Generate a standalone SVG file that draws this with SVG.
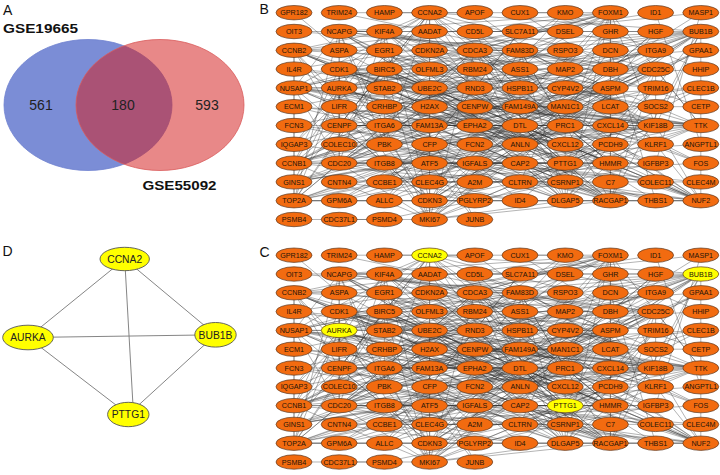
<svg xmlns="http://www.w3.org/2000/svg" xmlns:xlink="http://www.w3.org/1999/xlink" width="720" height="475" viewBox="0 0 720 475">
<style>
.lbl{font-family:"Liberation Sans",Arial,sans-serif;font-size:14px;fill:#111}
.gse{font-family:"Liberation Sans",Arial,sans-serif;font-weight:bold;font-size:13px;fill:#111}
.num{font-family:"Liberation Sans",Arial,sans-serif;font-size:14px;fill:#222;text-anchor:middle}
.n use{fill:#F26B10;stroke:#5b3a22;stroke-width:0.7}
.n.y use{fill:#FFFF00}
.n text{font-family:"Liberation Sans",Arial,sans-serif;font-size:7.2px;fill:#241408;text-anchor:middle}
.dn ellipse{fill:#FFFF00;stroke:#555;stroke-width:0.9}
.dn text{font-family:"Liberation Sans",Arial,sans-serif;font-size:10.3px;fill:#222;text-anchor:middle}
.e{fill:none;stroke:#333;stroke-width:0.6;stroke-opacity:0.62}
.de{stroke:#777;stroke-width:0.9;fill:none}
</style>
<defs>
<ellipse id="e" rx="18" ry="7.2"/>
</defs>
<rect width="720" height="475" fill="#fff"/>

<!-- Panel A: Venn -->
<g id="panelA">
<text class="lbl" x="3" y="15">A</text>
<ellipse id="venn-GSE19665" cx="88" cy="105" rx="84" ry="65.5" fill="#7B8DD6" stroke="#6F82CF" stroke-width="0.8"/>
<ellipse id="venn-GSE55092" cx="160" cy="105" rx="84" ry="65.5" fill="#D41E1E" fill-opacity="0.53" stroke="#D95A5A" stroke-width="0.8"/>
<text class="num" x="41" y="110">561</text>
<text class="num" x="123" y="110">180</text>
<text class="num" x="207" y="110">593</text>
<text class="gse" x="3" y="33.3" textLength="75" lengthAdjust="spacingAndGlyphs">GSE19665</text>
<text class="gse" x="142.5" y="190" textLength="74" lengthAdjust="spacingAndGlyphs">GSE55092</text>
</g>

<!-- Panel B connectors -->
<g id="connectors-B">
<g id="netB" transform="translate(294 12.7) scale(45.2 18.8)">
<path class="e" vector-effect="non-scaling-stroke" d="M0 2L0 4L0 8L0 10L1 1L1 3L1 4L1 6L1 8L2 1L2 3L2 7L3 0L3 4L3 10L3 11L4 2L5 2L5 6L5 7L6 6L6 8L6 10L7 0L7 4L7 8L7 10L8 3L8 6L9 1L9 6L9 10Z
M0 2L0 10L1 4L2 1L3 0L3 11L5 6L6 8L7 4L8 3L9 6L0 4L1 1L1 6L2 3L3 4L4 2L5 7L6 10L7 8L8 6L9 10L0 8L1 3L1 8L2 7L3 10L5 2L6 6L7 0L7 10L9 1Z
M0 2L1 3L2 3L3 11L6 6L7 8L9 6L0 10L1 8L3 4L5 6L7 0L8 6L0 4L1 4L2 7L4 2L6 8L7 10L9 10L1 1L2 1L3 10L5 7L7 4L9 1L0 8L1 6L3 0L5 2L6 10L8 3Z
M0 2L1 6L3 10L6 8L8 6L0 10L2 3L5 2L7 4L9 10L1 4L3 4L6 6L8 3L0 8L2 1L4 2L7 0L9 6L1 3L3 0L5 7L7 10L0 4L1 8L3 11L6 10L9 1L1 1L2 7L5 6L7 8Z
M0 2L2 1L5 6L8 3L1 1L3 4L6 10L9 10L1 8L5 2L7 10L0 10L3 0L6 8L9 6L1 6L4 2L7 8L0 8L2 7L6 6L9 1L1 4L3 11L7 4L0 4L2 3L5 7L8 6L1 3L3 10L7 0Z
M0 2L2 7L6 10L0 4L3 0L7 0L0 8L3 4L7 4L0 10L3 10L7 8L1 1L3 11L7 10L1 3L4 2L8 3L1 4L5 2L8 6L1 6L5 6L9 1L1 8L5 7L9 6L2 1L6 6L9 10L2 3L6 8Z
M0 2L3 4L7 10L1 6L6 6L0 4L3 10L8 3L1 8L6 8L0 8L3 11L8 6L2 1L6 10L0 10L4 2L9 1L2 3L7 0L1 1L5 2L9 6L2 7L7 4L1 3L5 6L9 10L3 0L7 8L1 4L5 7Z
M0 2L3 11L9 6L3 4L8 6L2 7L7 10L2 1L7 4L1 6L6 10L1 3L6 6L0 10L5 6L0 4L4 2L9 10L3 10L9 1L3 0L8 3L2 3L7 8L1 8L7 0L1 4L6 8L1 1L5 7L0 8L5 2Z
M2 0L4 0L7 5L9 5L4 1L8 1L6 7L7 6L9 8L2 2L4 11L3 8L8 8L9 0L3 9L7 9L9 9L4 8L8 9L1 7L6 3L2 5L4 9L2 8L9 7L8 0L0 3L5 4L7 2L8 10L2 6L9 4L1 5L6 7
M0 0L1 2L4 3L7 3L5 0L6 0L9 3L2 4L5 3L6 1L8 2L0 6L4 7L9 2L3 3L8 5L6 4L5 9L1 9L4 10L7 7L1 10L3 7L8 4L6 9L2 9L5 10L3 6L6 5L5 5L8 7L4 6L0 5L6 2L0 1L5 1L9 0
M0 11L3 11M1 11L2 11L8 8L3 8L2 10L5 8L7 2L4 4L3 1L1 0L2 0L3 0
M0 7L3 0L0 9L9 1L3 5L1 3L4 5L6 8L3 2L7 0L0 7L1 4L0 9L5 6L3 5L9 6L4 5L2 3L3 2L9 10L0 7L7 4L0 9L8 6L4 5L1 8L3 5L7 10L3 2L0 4
M1 2L6 8L2 4L9 6L3 6L7 10L4 7L8 2L0 8L6 4L3 9L9 1L5 3L1 6L7 7L4 1L6 10L2 2L8 8L0 4L5 9L9 4L1 10L7 3L3 1L6 6L0 6L8 10L4 4L2 9L7 1L5 6L3 10
M2 6L7 4L1 9L9 8L4 2L6 9L0 3L8 6L3 7L5 1L2 10L9 2L4 8L1 4L6 2L3 11L8 1L5 7L0 9L7 6L2 4L9 10L4 5L6 0L1 8L5 10L8 4L3 3L7 9L0 5L6 6"/>
</g>
</g>

<!-- Panel B nodes -->
<g id="panelB">
<text class="lbl" x="259.5" y="14">B</text>
<g id="b-GPR182" class="n" transform="translate(294 12.7)"><use href="#e"/><text y="2.6">GPR182</text></g>
<g id="b-OIT3" class="n" transform="translate(294 31.5)"><use href="#e"/><text y="2.6">OIT3</text></g>
<g id="b-CCNB2" class="n" transform="translate(294 50.3)"><use href="#e"/><text y="2.6">CCNB2</text></g>
<g id="b-IL4R" class="n" transform="translate(294 69.1)"><use href="#e"/><text y="2.6">IL4R</text></g>
<g id="b-NUSAP1" class="n" transform="translate(294 87.9)"><use href="#e"/><text y="2.6">NUSAP1</text></g>
<g id="b-ECM1" class="n" transform="translate(294 106.7)"><use href="#e"/><text y="2.6">ECM1</text></g>
<g id="b-FCN3" class="n" transform="translate(294 125.5)"><use href="#e"/><text y="2.6">FCN3</text></g>
<g id="b-IQGAP3" class="n" transform="translate(294 144.3)"><use href="#e"/><text y="2.6">IQGAP3</text></g>
<g id="b-CCNB1" class="n" transform="translate(294 163.1)"><use href="#e"/><text y="2.6">CCNB1</text></g>
<g id="b-GINS1" class="n" transform="translate(294 181.9)"><use href="#e"/><text y="2.6">GINS1</text></g>
<g id="b-TOP2A" class="n" transform="translate(294 200.7)"><use href="#e"/><text y="2.6">TOP2A</text></g>
<g id="b-PSMB4" class="n" transform="translate(294 219.5)"><use href="#e"/><text y="2.6">PSMB4</text></g>

<g id="b-TRIM24" class="n" transform="translate(339.2 12.7)"><use href="#e"/><text y="2.6">TRIM24</text></g>
<g id="b-NCAPG" class="n" transform="translate(339.2 31.5)"><use href="#e"/><text y="2.6">NCAPG</text></g>
<g id="b-ASPA" class="n" transform="translate(339.2 50.3)"><use href="#e"/><text y="2.6">ASPA</text></g>
<g id="b-CDK1" class="n" transform="translate(339.2 69.1)"><use href="#e"/><text y="2.6">CDK1</text></g>
<g id="b-AURKA" class="n" transform="translate(339.2 87.9)"><use href="#e"/><text y="2.6">AURKA</text></g>
<g id="b-LIFR" class="n" transform="translate(339.2 106.7)"><use href="#e"/><text y="2.6">LIFR</text></g>
<g id="b-CENPF" class="n" transform="translate(339.2 125.5)"><use href="#e"/><text y="2.6">CENPF</text></g>
<g id="b-COLEC10" class="n" transform="translate(339.2 144.3)"><use href="#e"/><text y="2.6">COLEC10</text></g>
<g id="b-CDC20" class="n" transform="translate(339.2 163.1)"><use href="#e"/><text y="2.6">CDC20</text></g>
<g id="b-CNTN4" class="n" transform="translate(339.2 181.9)"><use href="#e"/><text y="2.6">CNTN4</text></g>
<g id="b-GPM6A" class="n" transform="translate(339.2 200.7)"><use href="#e"/><text y="2.6">GPM6A</text></g>
<g id="b-CDC37L1" class="n" transform="translate(339.2 219.5)"><use href="#e"/><text y="2.6">CDC37L1</text></g>

<g id="b-HAMP" class="n" transform="translate(384.4 12.7)"><use href="#e"/><text y="2.6">HAMP</text></g>
<g id="b-KIF4A" class="n" transform="translate(384.4 31.5)"><use href="#e"/><text y="2.6">KIF4A</text></g>
<g id="b-EGR1" class="n" transform="translate(384.4 50.3)"><use href="#e"/><text y="2.6">EGR1</text></g>
<g id="b-BIRC5" class="n" transform="translate(384.4 69.1)"><use href="#e"/><text y="2.6">BIRC5</text></g>
<g id="b-STAB2" class="n" transform="translate(384.4 87.9)"><use href="#e"/><text y="2.6">STAB2</text></g>
<g id="b-CRHBP" class="n" transform="translate(384.4 106.7)"><use href="#e"/><text y="2.6">CRHBP</text></g>
<g id="b-ITGA6" class="n" transform="translate(384.4 125.5)"><use href="#e"/><text y="2.6">ITGA6</text></g>
<g id="b-PBK" class="n" transform="translate(384.4 144.3)"><use href="#e"/><text y="2.6">PBK</text></g>
<g id="b-ITGB8" class="n" transform="translate(384.4 163.1)"><use href="#e"/><text y="2.6">ITGB8</text></g>
<g id="b-CCBE1" class="n" transform="translate(384.4 181.9)"><use href="#e"/><text y="2.6">CCBE1</text></g>
<g id="b-ALLC" class="n" transform="translate(384.4 200.7)"><use href="#e"/><text y="2.6">ALLC</text></g>
<g id="b-PSMD4" class="n" transform="translate(384.4 219.5)"><use href="#e"/><text y="2.6">PSMD4</text></g>

<g id="b-CCNA2" class="n" transform="translate(429.6 12.7)"><use href="#e"/><text y="2.6">CCNA2</text></g>
<g id="b-AADAT" class="n" transform="translate(429.6 31.5)"><use href="#e"/><text y="2.6">AADAT</text></g>
<g id="b-CDKN2A" class="n" transform="translate(429.6 50.3)"><use href="#e"/><text y="2.6">CDKN2A</text></g>
<g id="b-OLFML3" class="n" transform="translate(429.6 69.1)"><use href="#e"/><text y="2.6">OLFML3</text></g>
<g id="b-UBE2C" class="n" transform="translate(429.6 87.9)"><use href="#e"/><text y="2.6">UBE2C</text></g>
<g id="b-H2AX" class="n" transform="translate(429.6 106.7)"><use href="#e"/><text y="2.6">H2AX</text></g>
<g id="b-FAM13A" class="n" transform="translate(429.6 125.5)"><use href="#e"/><text y="2.6">FAM13A</text></g>
<g id="b-CFP" class="n" transform="translate(429.6 144.3)"><use href="#e"/><text y="2.6">CFP</text></g>
<g id="b-ATF5" class="n" transform="translate(429.6 163.1)"><use href="#e"/><text y="2.6">ATF5</text></g>
<g id="b-CLEC4G" class="n" transform="translate(429.6 181.9)"><use href="#e"/><text y="2.6">CLEC4G</text></g>
<g id="b-CDKN3" class="n" transform="translate(429.6 200.7)"><use href="#e"/><text y="2.6">CDKN3</text></g>
<g id="b-MKI67" class="n" transform="translate(429.6 219.5)"><use href="#e"/><text y="2.6">MKI67</text></g>

<g id="b-APOF" class="n" transform="translate(474.8 12.7)"><use href="#e"/><text y="2.6">APOF</text></g>
<g id="b-CD5L" class="n" transform="translate(474.8 31.5)"><use href="#e"/><text y="2.6">CD5L</text></g>
<g id="b-CDCA3" class="n" transform="translate(474.8 50.3)"><use href="#e"/><text y="2.6">CDCA3</text></g>
<g id="b-RBM24" class="n" transform="translate(474.8 69.1)"><use href="#e"/><text y="2.6">RBM24</text></g>
<g id="b-RND3" class="n" transform="translate(474.8 87.9)"><use href="#e"/><text y="2.6">RND3</text></g>
<g id="b-CENPW" class="n" transform="translate(474.8 106.7)"><use href="#e"/><text y="2.6">CENPW</text></g>
<g id="b-EPHA2" class="n" transform="translate(474.8 125.5)"><use href="#e"/><text y="2.6">EPHA2</text></g>
<g id="b-FCN2" class="n" transform="translate(474.8 144.3)"><use href="#e"/><text y="2.6">FCN2</text></g>
<g id="b-IGFALS" class="n" transform="translate(474.8 163.1)"><use href="#e"/><text y="2.6">IGFALS</text></g>
<g id="b-A2M" class="n" transform="translate(474.8 181.9)"><use href="#e"/><text y="2.6">A2M</text></g>
<g id="b-PGLYRP2" class="n" transform="translate(474.8 200.7)"><use href="#e"/><text y="2.6">PGLYRP2</text></g>
<g id="b-JUNB" class="n" transform="translate(474.8 219.5)"><use href="#e"/><text y="2.6">JUNB</text></g>

<g id="b-CUX1" class="n" transform="translate(520 12.7)"><use href="#e"/><text y="2.6">CUX1</text></g>
<g id="b-SLC7A11" class="n" transform="translate(520 31.5)"><use href="#e"/><text y="2.6">SLC7A11</text></g>
<g id="b-FAM83D" class="n" transform="translate(520 50.3)"><use href="#e"/><text y="2.6">FAM83D</text></g>
<g id="b-ASS1" class="n" transform="translate(520 69.1)"><use href="#e"/><text y="2.6">ASS1</text></g>
<g id="b-HSPB11" class="n" transform="translate(520 87.9)"><use href="#e"/><text y="2.6">HSPB11</text></g>
<g id="b-FAM149A" class="n" transform="translate(520 106.7)"><use href="#e"/><text y="2.6">FAM149A</text></g>
<g id="b-DTL" class="n" transform="translate(520 125.5)"><use href="#e"/><text y="2.6">DTL</text></g>
<g id="b-ANLN" class="n" transform="translate(520 144.3)"><use href="#e"/><text y="2.6">ANLN</text></g>
<g id="b-CAP2" class="n" transform="translate(520 163.1)"><use href="#e"/><text y="2.6">CAP2</text></g>
<g id="b-CLTRN" class="n" transform="translate(520 181.9)"><use href="#e"/><text y="2.6">CLTRN</text></g>
<g id="b-ID4" class="n" transform="translate(520 200.7)"><use href="#e"/><text y="2.6">ID4</text></g>

<g id="b-KMO" class="n" transform="translate(565.2 12.7)"><use href="#e"/><text y="2.6">KMO</text></g>
<g id="b-DSEL" class="n" transform="translate(565.2 31.5)"><use href="#e"/><text y="2.6">DSEL</text></g>
<g id="b-RSPO3" class="n" transform="translate(565.2 50.3)"><use href="#e"/><text y="2.6">RSPO3</text></g>
<g id="b-MAP2" class="n" transform="translate(565.2 69.1)"><use href="#e"/><text y="2.6">MAP2</text></g>
<g id="b-CYP4V2" class="n" transform="translate(565.2 87.9)"><use href="#e"/><text y="2.6">CYP4V2</text></g>
<g id="b-MAN1C1" class="n" transform="translate(565.2 106.7)"><use href="#e"/><text y="2.6">MAN1C1</text></g>
<g id="b-PRC1" class="n" transform="translate(565.2 125.5)"><use href="#e"/><text y="2.6">PRC1</text></g>
<g id="b-CXCL12" class="n" transform="translate(565.2 144.3)"><use href="#e"/><text y="2.6">CXCL12</text></g>
<g id="b-PTTG1" class="n" transform="translate(565.2 163.1)"><use href="#e"/><text y="2.6">PTTG1</text></g>
<g id="b-CSRNP1" class="n" transform="translate(565.2 181.9)"><use href="#e"/><text y="2.6">CSRNP1</text></g>
<g id="b-DLGAP5" class="n" transform="translate(565.2 200.7)"><use href="#e"/><text y="2.6">DLGAP5</text></g>

<g id="b-FOXM1" class="n" transform="translate(610.4 12.7)"><use href="#e"/><text y="2.6">FOXM1</text></g>
<g id="b-GHR" class="n" transform="translate(610.4 31.5)"><use href="#e"/><text y="2.6">GHR</text></g>
<g id="b-DCN" class="n" transform="translate(610.4 50.3)"><use href="#e"/><text y="2.6">DCN</text></g>
<g id="b-DBH" class="n" transform="translate(610.4 69.1)"><use href="#e"/><text y="2.6">DBH</text></g>
<g id="b-ASPM" class="n" transform="translate(610.4 87.9)"><use href="#e"/><text y="2.6">ASPM</text></g>
<g id="b-LCAT" class="n" transform="translate(610.4 106.7)"><use href="#e"/><text y="2.6">LCAT</text></g>
<g id="b-CXCL14" class="n" transform="translate(610.4 125.5)"><use href="#e"/><text y="2.6">CXCL14</text></g>
<g id="b-PCDH9" class="n" transform="translate(610.4 144.3)"><use href="#e"/><text y="2.6">PCDH9</text></g>
<g id="b-HMMR" class="n" transform="translate(610.4 163.1)"><use href="#e"/><text y="2.6">HMMR</text></g>
<g id="b-C7" class="n" transform="translate(610.4 181.9)"><use href="#e"/><text y="2.6">C7</text></g>
<g id="b-RACGAP1" class="n" transform="translate(610.4 200.7)"><use href="#e"/><text y="2.6">RACGAP1</text></g>

<g id="b-ID1" class="n" transform="translate(655.6 12.7)"><use href="#e"/><text y="2.6">ID1</text></g>
<g id="b-HGF" class="n" transform="translate(655.6 31.5)"><use href="#e"/><text y="2.6">HGF</text></g>
<g id="b-ITGA9" class="n" transform="translate(655.6 50.3)"><use href="#e"/><text y="2.6">ITGA9</text></g>
<g id="b-CDC25C" class="n" transform="translate(655.6 69.1)"><use href="#e"/><text y="2.6">CDC25C</text></g>
<g id="b-TRIM16" class="n" transform="translate(655.6 87.9)"><use href="#e"/><text y="2.6">TRIM16</text></g>
<g id="b-SOCS2" class="n" transform="translate(655.6 106.7)"><use href="#e"/><text y="2.6">SOCS2</text></g>
<g id="b-KIF18B" class="n" transform="translate(655.6 125.5)"><use href="#e"/><text y="2.6">KIF18B</text></g>
<g id="b-KLRF1" class="n" transform="translate(655.6 144.3)"><use href="#e"/><text y="2.6">KLRF1</text></g>
<g id="b-IGFBP3" class="n" transform="translate(655.6 163.1)"><use href="#e"/><text y="2.6">IGFBP3</text></g>
<g id="b-COLEC11" class="n" transform="translate(655.6 181.9)"><use href="#e"/><text y="2.6">COLEC11</text></g>
<g id="b-THBS1" class="n" transform="translate(655.6 200.7)"><use href="#e"/><text y="2.6">THBS1</text></g>

<g id="b-MASP1" class="n" transform="translate(700.8 12.7)"><use href="#e"/><text y="2.6">MASP1</text></g>
<g id="b-BUB1B" class="n" transform="translate(700.8 31.5)"><use href="#e"/><text y="2.6">BUB1B</text></g>
<g id="b-GPAA1" class="n" transform="translate(700.8 50.3)"><use href="#e"/><text y="2.6">GPAA1</text></g>
<g id="b-HHIP" class="n" transform="translate(700.8 69.1)"><use href="#e"/><text y="2.6">HHIP</text></g>
<g id="b-CLEC1B" class="n" transform="translate(700.8 87.9)"><use href="#e"/><text y="2.6">CLEC1B</text></g>
<g id="b-CETP" class="n" transform="translate(700.8 106.7)"><use href="#e"/><text y="2.6">CETP</text></g>
<g id="b-TTK" class="n" transform="translate(700.8 125.5)"><use href="#e"/><text y="2.6">TTK</text></g>
<g id="b-ANGPTL1" class="n" transform="translate(700.8 144.3)"><use href="#e"/><text y="2.6">ANGPTL1</text></g>
<g id="b-FOS" class="n" transform="translate(700.8 163.1)"><use href="#e"/><text y="2.6">FOS</text></g>
<g id="b-CLEC4M" class="n" transform="translate(700.8 181.9)"><use href="#e"/><text y="2.6">CLEC4M</text></g>
<g id="b-NUF2" class="n" transform="translate(700.8 200.7)"><use href="#e"/><text y="2.6">NUF2</text></g>
</g>

<!-- Panel C connectors (same network) -->
<g id="connectors-C">
<use href="#netB" y="242.5"/>
</g>

<!-- Panel C nodes -->
<text class="lbl" x="259.5" y="256.5">C</text>
<g id="panelC" transform="translate(0 242.5)">
<g id="c-GPR182" class="n" transform="translate(294 12.7)"><use href="#e"/><text y="2.6">GPR182</text></g>
<g id="c-OIT3" class="n" transform="translate(294 31.5)"><use href="#e"/><text y="2.6">OIT3</text></g>
<g id="c-CCNB2" class="n" transform="translate(294 50.3)"><use href="#e"/><text y="2.6">CCNB2</text></g>
<g id="c-IL4R" class="n" transform="translate(294 69.1)"><use href="#e"/><text y="2.6">IL4R</text></g>
<g id="c-NUSAP1" class="n" transform="translate(294 87.9)"><use href="#e"/><text y="2.6">NUSAP1</text></g>
<g id="c-ECM1" class="n" transform="translate(294 106.7)"><use href="#e"/><text y="2.6">ECM1</text></g>
<g id="c-FCN3" class="n" transform="translate(294 125.5)"><use href="#e"/><text y="2.6">FCN3</text></g>
<g id="c-IQGAP3" class="n" transform="translate(294 144.3)"><use href="#e"/><text y="2.6">IQGAP3</text></g>
<g id="c-CCNB1" class="n" transform="translate(294 163.1)"><use href="#e"/><text y="2.6">CCNB1</text></g>
<g id="c-GINS1" class="n" transform="translate(294 181.9)"><use href="#e"/><text y="2.6">GINS1</text></g>
<g id="c-TOP2A" class="n" transform="translate(294 200.7)"><use href="#e"/><text y="2.6">TOP2A</text></g>
<g id="c-PSMB4" class="n" transform="translate(294 219.5)"><use href="#e"/><text y="2.6">PSMB4</text></g>

<g id="c-TRIM24" class="n" transform="translate(339.2 12.7)"><use href="#e"/><text y="2.6">TRIM24</text></g>
<g id="c-NCAPG" class="n" transform="translate(339.2 31.5)"><use href="#e"/><text y="2.6">NCAPG</text></g>
<g id="c-ASPA" class="n" transform="translate(339.2 50.3)"><use href="#e"/><text y="2.6">ASPA</text></g>
<g id="c-CDK1" class="n" transform="translate(339.2 69.1)"><use href="#e"/><text y="2.6">CDK1</text></g>
<g id="c-AURKA" class="n y" transform="translate(339.2 87.9)"><use href="#e"/><text y="2.6">AURKA</text></g>
<g id="c-LIFR" class="n" transform="translate(339.2 106.7)"><use href="#e"/><text y="2.6">LIFR</text></g>
<g id="c-CENPF" class="n" transform="translate(339.2 125.5)"><use href="#e"/><text y="2.6">CENPF</text></g>
<g id="c-COLEC10" class="n" transform="translate(339.2 144.3)"><use href="#e"/><text y="2.6">COLEC10</text></g>
<g id="c-CDC20" class="n" transform="translate(339.2 163.1)"><use href="#e"/><text y="2.6">CDC20</text></g>
<g id="c-CNTN4" class="n" transform="translate(339.2 181.9)"><use href="#e"/><text y="2.6">CNTN4</text></g>
<g id="c-GPM6A" class="n" transform="translate(339.2 200.7)"><use href="#e"/><text y="2.6">GPM6A</text></g>
<g id="c-CDC37L1" class="n" transform="translate(339.2 219.5)"><use href="#e"/><text y="2.6">CDC37L1</text></g>

<g id="c-HAMP" class="n" transform="translate(384.4 12.7)"><use href="#e"/><text y="2.6">HAMP</text></g>
<g id="c-KIF4A" class="n" transform="translate(384.4 31.5)"><use href="#e"/><text y="2.6">KIF4A</text></g>
<g id="c-EGR1" class="n" transform="translate(384.4 50.3)"><use href="#e"/><text y="2.6">EGR1</text></g>
<g id="c-BIRC5" class="n" transform="translate(384.4 69.1)"><use href="#e"/><text y="2.6">BIRC5</text></g>
<g id="c-STAB2" class="n" transform="translate(384.4 87.9)"><use href="#e"/><text y="2.6">STAB2</text></g>
<g id="c-CRHBP" class="n" transform="translate(384.4 106.7)"><use href="#e"/><text y="2.6">CRHBP</text></g>
<g id="c-ITGA6" class="n" transform="translate(384.4 125.5)"><use href="#e"/><text y="2.6">ITGA6</text></g>
<g id="c-PBK" class="n" transform="translate(384.4 144.3)"><use href="#e"/><text y="2.6">PBK</text></g>
<g id="c-ITGB8" class="n" transform="translate(384.4 163.1)"><use href="#e"/><text y="2.6">ITGB8</text></g>
<g id="c-CCBE1" class="n" transform="translate(384.4 181.9)"><use href="#e"/><text y="2.6">CCBE1</text></g>
<g id="c-ALLC" class="n" transform="translate(384.4 200.7)"><use href="#e"/><text y="2.6">ALLC</text></g>
<g id="c-PSMD4" class="n" transform="translate(384.4 219.5)"><use href="#e"/><text y="2.6">PSMD4</text></g>

<g id="c-CCNA2" class="n y" transform="translate(429.6 12.7)"><use href="#e"/><text y="2.6">CCNA2</text></g>
<g id="c-AADAT" class="n" transform="translate(429.6 31.5)"><use href="#e"/><text y="2.6">AADAT</text></g>
<g id="c-CDKN2A" class="n" transform="translate(429.6 50.3)"><use href="#e"/><text y="2.6">CDKN2A</text></g>
<g id="c-OLFML3" class="n" transform="translate(429.6 69.1)"><use href="#e"/><text y="2.6">OLFML3</text></g>
<g id="c-UBE2C" class="n" transform="translate(429.6 87.9)"><use href="#e"/><text y="2.6">UBE2C</text></g>
<g id="c-H2AX" class="n" transform="translate(429.6 106.7)"><use href="#e"/><text y="2.6">H2AX</text></g>
<g id="c-FAM13A" class="n" transform="translate(429.6 125.5)"><use href="#e"/><text y="2.6">FAM13A</text></g>
<g id="c-CFP" class="n" transform="translate(429.6 144.3)"><use href="#e"/><text y="2.6">CFP</text></g>
<g id="c-ATF5" class="n" transform="translate(429.6 163.1)"><use href="#e"/><text y="2.6">ATF5</text></g>
<g id="c-CLEC4G" class="n" transform="translate(429.6 181.9)"><use href="#e"/><text y="2.6">CLEC4G</text></g>
<g id="c-CDKN3" class="n" transform="translate(429.6 200.7)"><use href="#e"/><text y="2.6">CDKN3</text></g>
<g id="c-MKI67" class="n" transform="translate(429.6 219.5)"><use href="#e"/><text y="2.6">MKI67</text></g>

<g id="c-APOF" class="n" transform="translate(474.8 12.7)"><use href="#e"/><text y="2.6">APOF</text></g>
<g id="c-CD5L" class="n" transform="translate(474.8 31.5)"><use href="#e"/><text y="2.6">CD5L</text></g>
<g id="c-CDCA3" class="n" transform="translate(474.8 50.3)"><use href="#e"/><text y="2.6">CDCA3</text></g>
<g id="c-RBM24" class="n" transform="translate(474.8 69.1)"><use href="#e"/><text y="2.6">RBM24</text></g>
<g id="c-RND3" class="n" transform="translate(474.8 87.9)"><use href="#e"/><text y="2.6">RND3</text></g>
<g id="c-CENPW" class="n" transform="translate(474.8 106.7)"><use href="#e"/><text y="2.6">CENPW</text></g>
<g id="c-EPHA2" class="n" transform="translate(474.8 125.5)"><use href="#e"/><text y="2.6">EPHA2</text></g>
<g id="c-FCN2" class="n" transform="translate(474.8 144.3)"><use href="#e"/><text y="2.6">FCN2</text></g>
<g id="c-IGFALS" class="n" transform="translate(474.8 163.1)"><use href="#e"/><text y="2.6">IGFALS</text></g>
<g id="c-A2M" class="n" transform="translate(474.8 181.9)"><use href="#e"/><text y="2.6">A2M</text></g>
<g id="c-PGLYRP2" class="n" transform="translate(474.8 200.7)"><use href="#e"/><text y="2.6">PGLYRP2</text></g>
<g id="c-JUNB" class="n" transform="translate(474.8 219.5)"><use href="#e"/><text y="2.6">JUNB</text></g>

<g id="c-CUX1" class="n" transform="translate(520 12.7)"><use href="#e"/><text y="2.6">CUX1</text></g>
<g id="c-SLC7A11" class="n" transform="translate(520 31.5)"><use href="#e"/><text y="2.6">SLC7A11</text></g>
<g id="c-FAM83D" class="n" transform="translate(520 50.3)"><use href="#e"/><text y="2.6">FAM83D</text></g>
<g id="c-ASS1" class="n" transform="translate(520 69.1)"><use href="#e"/><text y="2.6">ASS1</text></g>
<g id="c-HSPB11" class="n" transform="translate(520 87.9)"><use href="#e"/><text y="2.6">HSPB11</text></g>
<g id="c-FAM149A" class="n" transform="translate(520 106.7)"><use href="#e"/><text y="2.6">FAM149A</text></g>
<g id="c-DTL" class="n" transform="translate(520 125.5)"><use href="#e"/><text y="2.6">DTL</text></g>
<g id="c-ANLN" class="n" transform="translate(520 144.3)"><use href="#e"/><text y="2.6">ANLN</text></g>
<g id="c-CAP2" class="n" transform="translate(520 163.1)"><use href="#e"/><text y="2.6">CAP2</text></g>
<g id="c-CLTRN" class="n" transform="translate(520 181.9)"><use href="#e"/><text y="2.6">CLTRN</text></g>
<g id="c-ID4" class="n" transform="translate(520 200.7)"><use href="#e"/><text y="2.6">ID4</text></g>

<g id="c-KMO" class="n" transform="translate(565.2 12.7)"><use href="#e"/><text y="2.6">KMO</text></g>
<g id="c-DSEL" class="n" transform="translate(565.2 31.5)"><use href="#e"/><text y="2.6">DSEL</text></g>
<g id="c-RSPO3" class="n" transform="translate(565.2 50.3)"><use href="#e"/><text y="2.6">RSPO3</text></g>
<g id="c-MAP2" class="n" transform="translate(565.2 69.1)"><use href="#e"/><text y="2.6">MAP2</text></g>
<g id="c-CYP4V2" class="n" transform="translate(565.2 87.9)"><use href="#e"/><text y="2.6">CYP4V2</text></g>
<g id="c-MAN1C1" class="n" transform="translate(565.2 106.7)"><use href="#e"/><text y="2.6">MAN1C1</text></g>
<g id="c-PRC1" class="n" transform="translate(565.2 125.5)"><use href="#e"/><text y="2.6">PRC1</text></g>
<g id="c-CXCL12" class="n" transform="translate(565.2 144.3)"><use href="#e"/><text y="2.6">CXCL12</text></g>
<g id="c-PTTG1" class="n y" transform="translate(565.2 163.1)"><use href="#e"/><text y="2.6">PTTG1</text></g>
<g id="c-CSRNP1" class="n" transform="translate(565.2 181.9)"><use href="#e"/><text y="2.6">CSRNP1</text></g>
<g id="c-DLGAP5" class="n" transform="translate(565.2 200.7)"><use href="#e"/><text y="2.6">DLGAP5</text></g>

<g id="c-FOXM1" class="n" transform="translate(610.4 12.7)"><use href="#e"/><text y="2.6">FOXM1</text></g>
<g id="c-GHR" class="n" transform="translate(610.4 31.5)"><use href="#e"/><text y="2.6">GHR</text></g>
<g id="c-DCN" class="n" transform="translate(610.4 50.3)"><use href="#e"/><text y="2.6">DCN</text></g>
<g id="c-DBH" class="n" transform="translate(610.4 69.1)"><use href="#e"/><text y="2.6">DBH</text></g>
<g id="c-ASPM" class="n" transform="translate(610.4 87.9)"><use href="#e"/><text y="2.6">ASPM</text></g>
<g id="c-LCAT" class="n" transform="translate(610.4 106.7)"><use href="#e"/><text y="2.6">LCAT</text></g>
<g id="c-CXCL14" class="n" transform="translate(610.4 125.5)"><use href="#e"/><text y="2.6">CXCL14</text></g>
<g id="c-PCDH9" class="n" transform="translate(610.4 144.3)"><use href="#e"/><text y="2.6">PCDH9</text></g>
<g id="c-HMMR" class="n" transform="translate(610.4 163.1)"><use href="#e"/><text y="2.6">HMMR</text></g>
<g id="c-C7" class="n" transform="translate(610.4 181.9)"><use href="#e"/><text y="2.6">C7</text></g>
<g id="c-RACGAP1" class="n" transform="translate(610.4 200.7)"><use href="#e"/><text y="2.6">RACGAP1</text></g>

<g id="c-ID1" class="n" transform="translate(655.6 12.7)"><use href="#e"/><text y="2.6">ID1</text></g>
<g id="c-HGF" class="n" transform="translate(655.6 31.5)"><use href="#e"/><text y="2.6">HGF</text></g>
<g id="c-ITGA9" class="n" transform="translate(655.6 50.3)"><use href="#e"/><text y="2.6">ITGA9</text></g>
<g id="c-CDC25C" class="n" transform="translate(655.6 69.1)"><use href="#e"/><text y="2.6">CDC25C</text></g>
<g id="c-TRIM16" class="n" transform="translate(655.6 87.9)"><use href="#e"/><text y="2.6">TRIM16</text></g>
<g id="c-SOCS2" class="n" transform="translate(655.6 106.7)"><use href="#e"/><text y="2.6">SOCS2</text></g>
<g id="c-KIF18B" class="n" transform="translate(655.6 125.5)"><use href="#e"/><text y="2.6">KIF18B</text></g>
<g id="c-KLRF1" class="n" transform="translate(655.6 144.3)"><use href="#e"/><text y="2.6">KLRF1</text></g>
<g id="c-IGFBP3" class="n" transform="translate(655.6 163.1)"><use href="#e"/><text y="2.6">IGFBP3</text></g>
<g id="c-COLEC11" class="n" transform="translate(655.6 181.9)"><use href="#e"/><text y="2.6">COLEC11</text></g>
<g id="c-THBS1" class="n" transform="translate(655.6 200.7)"><use href="#e"/><text y="2.6">THBS1</text></g>

<g id="c-MASP1" class="n" transform="translate(700.8 12.7)"><use href="#e"/><text y="2.6">MASP1</text></g>
<g id="c-BUB1B" class="n y" transform="translate(700.8 31.5)"><use href="#e"/><text y="2.6">BUB1B</text></g>
<g id="c-GPAA1" class="n" transform="translate(700.8 50.3)"><use href="#e"/><text y="2.6">GPAA1</text></g>
<g id="c-HHIP" class="n" transform="translate(700.8 69.1)"><use href="#e"/><text y="2.6">HHIP</text></g>
<g id="c-CLEC1B" class="n" transform="translate(700.8 87.9)"><use href="#e"/><text y="2.6">CLEC1B</text></g>
<g id="c-CETP" class="n" transform="translate(700.8 106.7)"><use href="#e"/><text y="2.6">CETP</text></g>
<g id="c-TTK" class="n" transform="translate(700.8 125.5)"><use href="#e"/><text y="2.6">TTK</text></g>
<g id="c-ANGPTL1" class="n" transform="translate(700.8 144.3)"><use href="#e"/><text y="2.6">ANGPTL1</text></g>
<g id="c-FOS" class="n" transform="translate(700.8 163.1)"><use href="#e"/><text y="2.6">FOS</text></g>
<g id="c-CLEC4M" class="n" transform="translate(700.8 181.9)"><use href="#e"/><text y="2.6">CLEC4M</text></g>
<g id="c-NUF2" class="n" transform="translate(700.8 200.7)"><use href="#e"/><text y="2.6">NUF2</text></g>
</g>

<!-- Panel D -->
<text class="lbl" x="2.5" y="256">D</text>
<g id="connectors-D">
<line class="de" x1="124.7" y1="259" x2="28" y2="337.5"/>
<line class="de" x1="124.7" y1="259" x2="215.5" y2="334.8"/>
<line class="de" x1="124.7" y1="259" x2="133.5" y2="414.5"/>
<line class="de" x1="28" y1="337.5" x2="215.5" y2="334.8"/>
<line class="de" x1="28" y1="337.5" x2="128.3" y2="414.5"/>
<line class="de" x1="215.5" y1="334.8" x2="128.3" y2="414.5"/>
</g>
<g id="d-CCNA2" class="dn"><ellipse cx="124.7" cy="259" rx="24.7" ry="11.7"/><text x="124.7" y="262.8">CCNA2</text></g>
<g id="d-AURKA" class="dn"><ellipse cx="28" cy="337.5" rx="25.3" ry="12.3"/><text x="28" y="341.3">AURKA</text></g>
<g id="d-BUB1B" class="dn"><ellipse cx="215.5" cy="334.8" rx="20.7" ry="12.3"/><text x="215.5" y="338.6">BUB1B</text></g>
<g id="d-PTTG1" class="dn"><ellipse cx="128.3" cy="414.5" rx="20.7" ry="12.2"/><text x="128.3" y="418.3">PTTG1</text></g>
</svg>
